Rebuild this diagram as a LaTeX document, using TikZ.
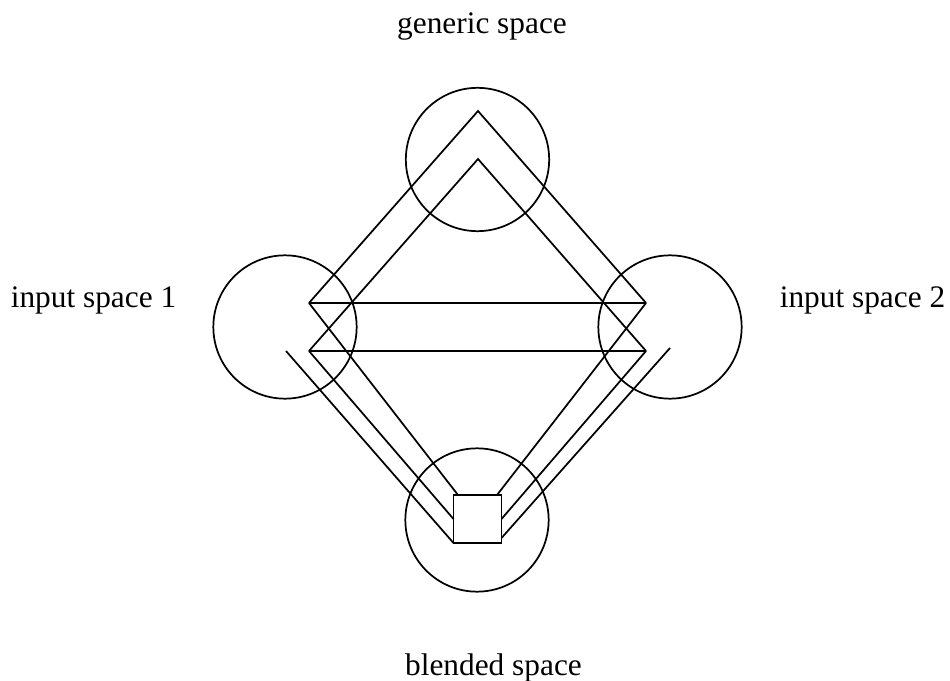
\documentclass[tikz,border=0pt]{standalone}
\usepackage{fontspec}
\setmainfont{Liberation Serif}
\begin{document}
\begin{tikzpicture}[x=0.75pt,y=-0.75pt,line width=1.3pt,
  spacecircle/.style={circle,draw,minimum size=107.5pt,inner sep=0pt},
  blendbox/.style={rectangle,draw,minimum size=36pt,inner sep=0pt},
  lbl/.style={font=\fontsize{23.5}{28}\selectfont,anchor=base,inner sep=0pt}]
\useasboundingbox (0,0) rectangle (950,681);
% circles
\node[spacecircle] (gen) at (477.5,159.5) {};
\node[spacecircle] (in1) at (285,327) {};
\node[spacecircle] (in2) at (670,327) {};
\node[spacecircle] (bl) at (477,520) {};
\node[blendbox] (box) at (477.5,519) {};
% labels
\node[lbl] (tgen) at (482,34) {generic space};
\node[lbl] (tin1) at (93.5,307) {input space 1};
\node[lbl] (tin2) at (862.5,307) {input space 2};
\node[lbl] (tbl) at (493.5,675) {blended space};
% vertices
\coordinate (G1) at (478,111);
\coordinate (G2) at (478,159);
\coordinate (L1) at (309,303);
\coordinate (L2) at (309,351);
\coordinate (L3) at (286,351);
\coordinate (R1) at (646,303);
\coordinate (R2) at (646,351);
\coordinate (R3) at (670,348);
\coordinate (S1) at (458,495);
\coordinate (S2) at (453.5,519);
\coordinate (S3) at (453.5,543);
\coordinate (S4) at (497,495);
\coordinate (S5) at (501.5,519);
\coordinate (S6) at (501.5,538);
% connectors
\draw (L1) -- (G1) -- (R1);
\draw (L2) -- (G2) -- (R2);
\draw (L1) -- (R1);
\draw (L2) -- (R2);
\draw (L1) -- (S1);
\draw (L2) -- (S2);
\draw (L3) -- (S3);
\draw (R1) -- (S4);
\draw (R2) -- (S5);
\draw (R3) -- (S6);
\end{tikzpicture}
\end{document}
